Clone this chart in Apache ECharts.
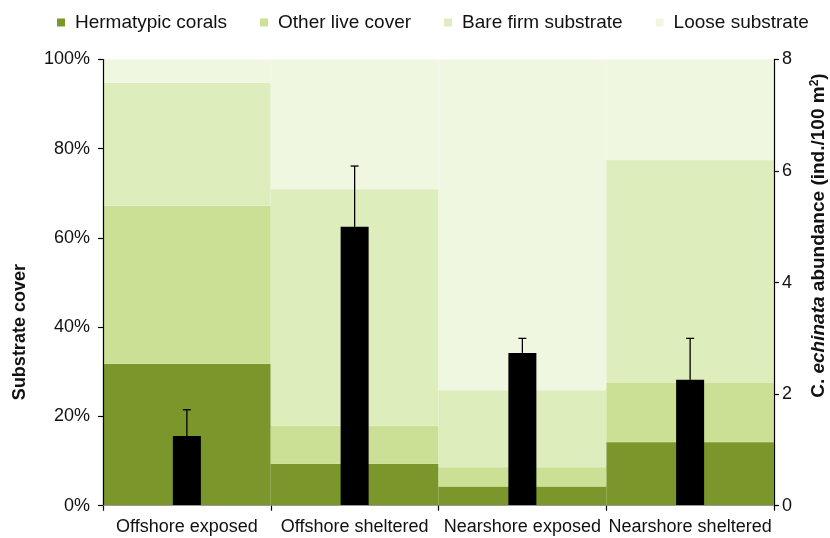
<!DOCTYPE html>
<html>
<head>
<meta charset="utf-8">
<script src="https://cdn.jsdelivr.net/npm/echarts@6/dist/echarts.min.js"></script>
<style>html,body{margin:0;padding:0;background:#fff;}#c{width:830px;height:538px;}</style>
</head>
<body>
<div id="c"></div>
<script>
const categories = ['Offshore exposed', 'Offshore sheltered', 'Nearshore exposed', 'Nearshore sheltered'];
const hermatypic = [31.8, 9.4, 4.3, 14.3];
const otherLive = [35.4, 8.5, 4.4, 13.3];
const bareFirm = [27.6, 53.1, 17.2, 49.9];
const looseSub = [5.2, 29.0, 74.1, 22.5];
const abundance = [1.25, 5.0, 2.74, 2.26];
const abundanceSE = [0.47, 1.09, 0.26, 0.74];
const leftTicks = [0, 20, 40, 60, 80, 100];
const rightTicks = [0, 2, 4, 6, 8];

const FONT = "'Liberation Sans', Arial, sans-serif";
const colors = ['#7B962A', '#CCE095', '#DEEDBC', '#F0F7E0'];
const names = ['Hermatypic corals', 'Other live cover', 'Bare firm substrate', 'Loose substrate'];
const stacks = [hermatypic, otherLive, bareFirm, looseSub];

const chart = echarts.init(document.getElementById('c'), null, {renderer: 'canvas'});

const coverSeries = stacks.map((d, i) => ({
  name: names[i], type: 'bar', stack: 'cover', data: d,
  xAxisIndex: 0, yAxisIndex: 0, barWidth: '100%',
  itemStyle: {color: colors[i], borderColor: colors[i], borderWidth: 0.5}, z: 1, silent: true
}));

const option = {
  animation: false,
  textStyle: {fontFamily: FONT},
  legend: {
    data: names, top: 8, left: 52, icon: 'rect', itemWidth: 8, itemHeight: 8, itemGap: 33,
    itemStyle: {borderWidth: 0},
    textStyle: {fontFamily: FONT, fontSize: 19, color: '#111', padding: [0, 0, 0, 5]}
  },
  grid: {left: 103, right: 56, top: 59.5, bottom: 32.3, containLabel: false, outerBoundsMode: 'none'},
  xAxis: [{
    type: 'category', data: categories, position: 'bottom', z: 10,
    axisLine: {lineStyle: {color: '#000', width: 1.2}},
    axisTick: {show: true, length: 5, lineStyle: {color: '#000', width: 1.2}},
    axisLabel: {fontFamily: FONT, fontSize: 18, color: '#111', margin: 12, interval: 0}
  }, {
    type: 'category', data: categories, position: 'top', z: 10,
    axisLine: {lineStyle: {color: '#9a9a9a', width: 1}},
    axisTick: {show: false}, axisLabel: {show: false}
  }],
  yAxis: [{
    type: 'value', min: leftTicks[0], max: leftTicks[leftTicks.length - 1], interval: 20, position: 'left', z: 10,
    axisLine: {show: true, lineStyle: {color: '#000', width: 1.2}},
    axisTick: {show: true, length: 5, lineStyle: {color: '#000', width: 1.2}},
    splitLine: {show: false},
    axisLabel: {fontFamily: FONT, fontSize: 18, color: '#111', margin: 13, formatter: '{value}%'},
    name: 'Substrate cover', nameLocation: 'middle', nameRotate: 90, nameGap: 74,
    nameTextStyle: {fontFamily: FONT, fontSize: 18, fontWeight: 'bold', color: '#111', padding: [0, 99, 0, 0]}
  }, {
    type: 'value', min: rightTicks[0], max: rightTicks[rightTicks.length - 1], interval: 2, position: 'right', z: 10,
    axisLine: {show: true, lineStyle: {color: '#000', width: 1.2}},
    axisTick: {show: true, length: 5, lineStyle: {color: '#000', width: 1.2}},
    splitLine: {show: false},
    axisLabel: {fontFamily: FONT, fontSize: 18, color: '#111', margin: 8},
    name: '{b|C. }{bi|echinata}{b| abundance (ind./100 m}{sup|2}{b|)}',
    nameLocation: 'middle', nameRotate: 90, nameGap: 35,
    nameTextStyle: {
      fontFamily: FONT, fontSize: 19, fontWeight: 'bold', color: '#111', padding: [0, 0, 0, 94],
      rich: {
        b: {fontFamily: FONT, fontSize: 19, fontWeight: 'bold', color: '#111'},
        bi: {fontFamily: FONT, fontSize: 19, fontWeight: 'bold', fontStyle: 'italic', color: '#111'},
        sup: {fontFamily: FONT, fontSize: 12, fontWeight: 'bold', color: '#111', verticalAlign: 'top', padding: [0, 0, 8, 0]}
      }
    }
  }],
  series: coverSeries.concat([{
    name: 'Abundance', type: 'bar', data: abundance, xAxisIndex: 1, yAxisIndex: 1,
    barWidth: 28, itemStyle: {color: '#000'}, z: 3, silent: true
  }, {
    name: 'Error', type: 'custom', xAxisIndex: 1, yAxisIndex: 1, z: 4, silent: true,
    data: abundance.map((v, i) => [i, v, v + abundanceSE[i]]),
    renderItem: function (params, api) {
      const p0 = api.coord([api.value(0), api.value(1)]);
      const p1 = api.coord([api.value(0), api.value(2)]);
      return {
        type: 'group', children: [
          {type: 'line', shape: {x1: p0[0], y1: p0[1], x2: p1[0], y2: p1[1]}, style: {stroke: '#000', lineWidth: 1.3}},
          {type: 'line', shape: {x1: p1[0] - 4, y1: p1[1], x2: p1[0] + 4, y2: p1[1]}, style: {stroke: '#000', lineWidth: 1.3}}
        ]
      };
    }
  }])
};
chart.setOption(option);
</script>
</body>
</html>
